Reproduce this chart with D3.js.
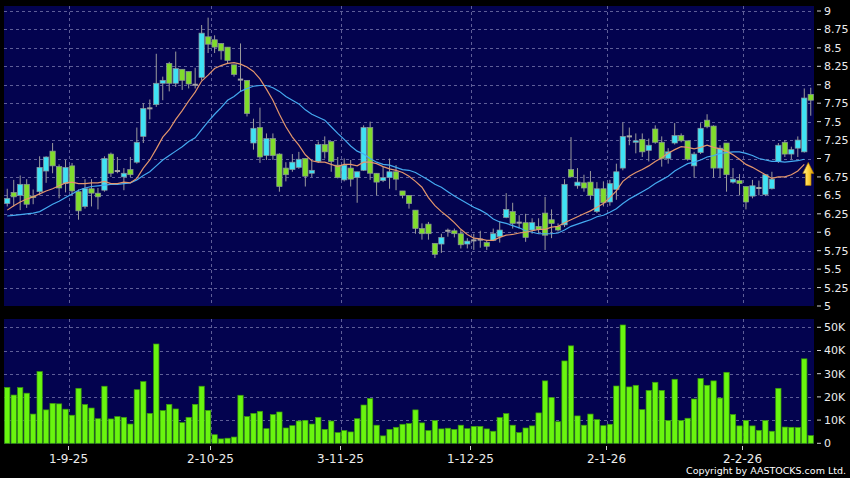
<!DOCTYPE html>
<html><head><meta charset="utf-8">
<script src="https://cdn.jsdelivr.net/npm/d3@7"></script>
<style>html,body{margin:0;padding:0;background:#000;}svg{display:block;}</style>
</head><body><svg id="c" width="850" height="478"></svg>
<script>
const open  = [6.39,6.54,6.50,6.65,6.49,6.55,6.83,7.10,6.89,6.66,6.90,6.55,6.35,6.59,6.53,6.57,7.06,6.83,6.75,6.85,
6.95,7.30,7.68,7.73,8.02,8.29,8.02,8.21,8.18,8.00,8.10,8.65,8.61,8.56,8.51,8.27,8.07,8.06,7.21,7.42,
7.04,7.27,7.06,6.87,6.85,6.88,7.00,6.80,6.96,7.19,7.23,6.91,6.71,6.87,6.74,6.84,7.42,6.80,6.70,6.74,
6.82,6.56,6.50,6.30,6.05,6.11,5.85,5.84,6.02,6.02,5.98,5.84,5.89,5.90,5.86,5.89,5.94,6.20,6.28,6.13,
6.13,6.03,6.08,6.26,6.17,6.08,6.10,6.85,6.63,6.67,6.68,6.28,6.59,6.41,6.58,6.87,7.30,7.22,7.26,7.11,
7.40,7.22,7.00,7.21,7.31,7.24,6.90,7.08,7.52,7.44,6.87,7.21,6.68,6.70,6.62,6.49,6.60,6.51,6.59,6.96,
7.22,7.06,7.14,7.09,7.87];
const high  = [6.59,6.71,6.77,6.72,6.58,7.03,7.03,7.21,6.92,6.98,6.94,6.58,6.72,6.72,6.60,7.03,7.08,7.02,6.87,7.02,
7.42,7.75,7.80,8.42,8.11,8.31,8.45,8.21,8.18,8.23,8.81,8.91,8.67,8.56,8.51,8.27,8.56,8.06,7.54,7.69,
7.34,7.34,7.07,6.95,7.06,7.09,7.00,6.98,7.23,7.30,7.23,7.02,7.00,6.98,6.82,7.45,7.50,6.80,6.89,7.00,
6.91,6.56,6.50,6.30,6.12,6.14,5.85,5.98,6.05,6.05,6.03,5.92,5.98,6.02,5.89,6.05,6.15,6.53,6.40,6.23,
6.25,6.19,6.19,6.48,6.31,6.12,6.72,7.29,6.87,6.78,6.83,6.68,6.69,6.71,6.93,7.49,7.42,7.34,7.34,7.27,
7.45,7.30,7.14,7.48,7.34,7.24,7.09,7.48,7.60,7.45,7.18,7.21,6.87,6.79,6.62,6.71,6.70,6.79,6.82,7.21,
7.25,7.16,7.30,7.95,7.96];
const low   = [6.35,6.35,6.30,6.33,6.38,6.50,6.67,6.80,6.46,6.54,6.50,6.17,6.32,6.35,6.31,6.55,6.75,6.80,6.57,6.75,
6.93,7.21,7.53,7.70,7.79,7.91,7.97,7.93,7.95,7.95,8.06,8.43,8.43,8.34,8.29,8.11,7.91,7.57,7.12,6.94,
6.98,6.98,6.55,6.69,6.82,6.86,6.62,6.75,6.94,7.00,6.82,6.73,6.69,6.62,6.40,6.83,6.71,6.50,6.68,6.59,
6.57,6.46,6.32,5.98,5.90,5.90,5.65,5.72,5.94,5.93,5.78,5.78,5.76,5.79,5.76,5.88,5.86,6.19,6.05,6.05,
5.87,5.98,5.98,5.76,5.92,6.01,6.07,6.75,6.59,6.55,6.44,6.26,6.35,6.36,6.44,6.84,7.18,7.07,7.02,6.96,
7.20,6.89,6.93,7.19,7.22,6.97,6.74,7.06,7.41,6.74,6.74,6.55,6.66,6.50,6.31,6.46,6.50,6.49,6.58,6.94,
7.02,6.99,7.02,7.08,7.58];
const close = [6.46,6.48,6.65,6.38,6.47,6.88,7.02,6.90,6.60,6.88,6.56,6.29,6.59,6.53,6.48,7.00,6.80,6.83,6.80,6.78,
7.22,7.68,7.68,8.02,8.06,8.02,8.22,8.06,8.01,8.00,8.70,8.55,8.51,8.46,8.33,8.14,8.07,7.61,7.41,7.02,
7.27,7.04,6.62,6.78,6.95,6.99,6.76,6.84,7.19,7.09,6.96,6.74,6.91,6.72,6.82,7.42,6.80,6.68,6.74,6.82,
6.72,6.50,6.39,6.05,5.98,5.98,5.70,5.93,6.02,5.98,5.83,5.88,5.89,5.90,5.81,5.98,6.03,6.31,6.12,6.13,
5.93,6.13,6.04,5.96,6.12,6.03,6.65,6.75,6.68,6.60,6.50,6.59,6.40,6.66,6.82,7.30,7.30,7.24,7.09,7.18,
7.22,7.00,7.09,7.31,7.24,6.99,7.06,7.41,7.43,6.87,7.14,6.78,6.72,6.66,6.41,6.63,6.60,6.78,6.72,7.18,
7.06,7.12,7.25,7.82,7.79];
// volume in thousands of shares
const volume = [24.1,20.8,24.0,21.6,12.6,30.9,14.4,17.2,17.0,14.7,12.1,23.7,16.7,15.2,10.6,24.6,10.5,11.5,11.2,8.3,
23.1,26.6,12.9,42.8,14.1,16.8,14.8,8.9,11.2,16.8,24.6,14.2,3.7,1.9,2.2,2.7,20.7,11.5,12.9,13.8,
6.3,12.4,13.5,6.6,7.6,9.6,9.9,8.3,11.2,6.0,9.6,4.6,5.5,4.9,10.6,16.5,19.3,7.8,3.2,6.0,
6.9,8.2,8.5,14.4,8.8,5.5,9.8,6.2,6.5,6.0,7.8,6.3,7.3,7.3,6.2,5.2,11.1,12.8,7.8,4.6,
6.6,7.5,13.1,26.9,19.7,9.3,35.5,42.0,11.8,7.8,12.6,10.2,7.6,8.2,24.7,51.0,24.3,25.0,14.5,22.8,
26.3,22.8,9.8,27.6,9.8,10.8,19.1,27.9,25.0,26.9,19.5,30.6,12.4,7.5,9.9,7.5,5.6,9.8,5.2,23.7,
7.0,6.9,6.8,36.4,3.3];
const ma10 = [6.30,6.36,6.41,6.45,6.48,6.52,6.56,6.59,6.63,6.67,6.68,6.66,6.66,6.67,6.67,6.69,6.66,6.66,6.68,6.67,
6.73,6.87,6.98,7.13,7.29,7.39,7.53,7.65,7.78,7.90,8.05,8.13,8.22,8.26,8.29,8.30,8.28,8.24,8.18,8.08,
7.94,7.79,7.60,7.43,7.29,7.18,7.05,6.97,6.95,6.95,6.92,6.89,6.92,6.92,6.90,6.95,6.95,6.93,6.89,6.86,
6.84,6.81,6.76,6.69,6.61,6.47,6.36,6.28,6.21,6.13,6.04,5.97,5.92,5.91,5.89,5.89,5.93,5.96,5.97,5.99,
6.00,6.02,6.04,6.04,6.07,6.08,6.13,6.17,6.21,6.25,6.29,6.34,6.39,6.47,6.56,6.69,6.76,6.81,6.85,6.90,
6.96,7.01,7.07,7.12,7.16,7.15,7.13,7.15,7.18,7.15,7.13,7.10,7.05,6.99,6.92,6.88,6.83,6.78,6.73,6.75,
6.75,6.78,6.83,6.92];
const ma20 = [6.22,6.23,6.24,6.25,6.26,6.28,6.33,6.38,6.42,6.47,6.52,6.57,6.60,6.62,6.63,6.64,6.65,6.65,6.66,6.67,
6.71,6.77,6.82,6.90,6.98,7.04,7.10,7.16,7.23,7.28,7.39,7.50,7.60,7.69,7.79,7.84,7.91,7.95,7.98,7.99,
7.99,7.96,7.91,7.84,7.79,7.74,7.66,7.60,7.56,7.52,7.43,7.34,7.26,7.17,7.10,7.06,7.00,6.95,6.92,6.91,
6.88,6.85,6.84,6.81,6.76,6.71,6.65,6.61,6.55,6.49,6.44,6.39,6.34,6.30,6.25,6.18,6.14,6.12,6.09,6.06,
6.02,6.00,5.98,5.98,5.98,5.99,6.03,6.08,6.11,6.14,6.17,6.21,6.23,6.27,6.32,6.39,6.45,6.50,6.55,6.60,
6.66,6.71,6.76,6.83,6.88,6.93,6.95,6.98,7.02,7.04,7.07,7.08,7.09,7.09,7.07,7.04,7.00,6.98,6.96,6.96,
6.95,6.96,6.97,6.99];
const priceTicks = [5,5.25,5.5,5.75,6,6.25,6.5,6.75,7,7.25,7.5,7.75,8,8.25,8.5,8.75,9];
const volTicks = [0,10,20,30,40,50];
const volTickLabels = ["0","10K","20K","30K","40K","50K"];
const dateTickIndex = [9,31,51,71,92,113];
const dateTickLabels = ["1-9-25","2-10-25","3-11-25","1-12-25","2-1-26","2-2-26"];

const svg = d3.select("#c");
const W = 850, H = 478;
const L = 4, R = 814;
const pTop = 6, pBot = 306, vTop = 319, vBot = 444;
const FONT = "DejaVu Sans, Verdana, sans-serif";
const NAVY = "#03034f";
const GRID = "#5e5e98";

svg.append("rect").attr("width", W).attr("height", H).attr("fill", "#000");

const n = close.length;
const x = d3.scaleBand().domain(d3.range(n)).range([L, R]).paddingInner(0.18).paddingOuter(0.09);
const bw = x.bandwidth();
const cx = i => x(i) + bw / 2;
const gridX = i => x(i) + bw + (x.step() - bw) / 2;

const y = d3.scaleLinear().domain([5, 9]).range([pBot, 11]);
const yv = d3.scaleLinear().domain([0, 50]).range([443.3, 327.3]);

// panels
svg.append("rect").attr("x", L).attr("y", pTop).attr("width", R - L).attr("height", pBot - pTop).attr("fill", NAVY);
svg.append("rect").attr("x", L).attr("y", vTop).attr("width", R - L).attr("height", vBot - vTop).attr("fill", NAVY);

const defs = svg.append("defs");
defs.append("clipPath").attr("id", "pclip").append("rect").attr("x", L).attr("y", pTop).attr("width", R - L).attr("height", pBot - pTop);
const grad = defs.append("linearGradient").attr("id", "arrowg").attr("x1", "0").attr("x2", "1").attr("y1", "0").attr("y2", "0");
grad.append("stop").attr("offset", "0").attr("stop-color", "#fff3a0");
grad.append("stop").attr("offset", "0.5").attr("stop-color", "#ffd23a");
grad.append("stop").attr("offset", "1").attr("stop-color", "#d99a00");

// horizontal grids
const g = svg.append("g");
g.selectAll("line.hp").data(priceTicks.filter(t => t > 5)).join("line")
  .attr("x1", L).attr("x2", R).attr("y1", d => Math.round(y(d)) + 0.5).attr("y2", d => Math.round(y(d)) + 0.5)
  .attr("stroke", GRID).attr("stroke-width", 1).attr("stroke-dasharray", "3,3");
g.selectAll("line.hv").data(volTicks.filter(t => t > 0)).join("line")
  .attr("x1", L).attr("x2", R).attr("y1", d => Math.round(yv(d)) + 0.5).attr("y2", d => Math.round(yv(d)) + 0.5)
  .attr("stroke", GRID).attr("stroke-width", 1).attr("stroke-dasharray", "3,3");
// vertical grids
dateTickIndex.forEach(i => {
  const gx = Math.round(gridX(i)) + 0.5;
  [[pTop, pBot], [vTop, vBot]].forEach(([a, b]) => {
    g.append("line").attr("x1", gx).attr("x2", gx).attr("y1", a).attr("y2", b)
      .attr("stroke", GRID).attr("stroke-width", 1).attr("stroke-dasharray", "3,3");
  });
});

// volume bars
svg.append("g").selectAll("rect").data(volume).join("rect")
  .attr("x", (d, i) => x(i)).attr("width", bw)
  .attr("y", d => yv(d)).attr("height", d => yv(0) - yv(d))
  .attr("fill", "#69f50f").attr("stroke", "#3a9a0c").attr("stroke-width", 0.7);

// candles
const cg = svg.append("g").attr("clip-path", "url(#pclip)");
const idx = d3.range(n);
cg.selectAll("line.wick").data(idx).join("line")
  .attr("x1", i => cx(i)).attr("x2", i => cx(i))
  .attr("y1", i => y(high[i])).attr("y2", i => y(low[i]))
  .attr("stroke", "#9c9c9c").attr("stroke-width", 1);
cg.selectAll("rect.body").data(idx).join("rect")
  .attr("x", i => x(i)).attr("width", bw)
  .attr("y", i => open[i] === close[i] ? y(open[i]) - 1 : y(Math.max(open[i], close[i])))
  .attr("height", i => open[i] === close[i] ? 2 : Math.max(1.5, Math.abs(y(open[i]) - y(close[i]))))
  .attr("fill", i => close[i] > open[i] ? "#3fe2f4" : (close[i] < open[i] ? "#80dc2c" : "#a4a4a4"))
  .attr("stroke", i => open[i] === close[i] ? "none" : "#8a959a").attr("stroke-width", 0.7);

// moving averages
const line = d3.line().x((d, i) => cx(i)).y(d => y(d));
cg.append("path").attr("d", line(ma20)).attr("fill", "none").attr("stroke", "#45aaf0").attr("stroke-width", 1.2);
cg.append("path").attr("d", line(ma10)).attr("fill", "none").attr("stroke", "#e3966c").attr("stroke-width", 1.2);

// arrow at end of ma10
{
  const ax = cx(n - 1) - 2.5, ay = y(ma10[ma10.length - 1]) - 2;
  const p = d3.path();
  p.moveTo(ax, ay); p.lineTo(ax + 5.5, ay + 11); p.lineTo(ax + 2.8, ay + 11); p.lineTo(ax + 2.8, ay + 23);
  p.lineTo(ax - 2.8, ay + 23); p.lineTo(ax - 2.8, ay + 11); p.lineTo(ax - 5.5, ay + 11); p.closePath();
  svg.append("path").attr("d", p.toString()).attr("fill", "url(#arrowg)").attr("stroke", "#b07a00").attr("stroke-width", 0.6);
}

// right axis - price
const ax = svg.append("g");
priceTicks.forEach(t => {
  ax.append("line").attr("x1", 817).attr("x2", 821).attr("y1", y(t)).attr("y2", y(t)).attr("stroke", "#d0d0d0");
  ax.append("text").attr("x", 824).attr("y", y(t)).attr("dy", "0.36em")
    .attr("fill", "#ececec").attr("font-family", FONT).attr("font-size", 11).text(String(t));
});
volTicks.forEach((t, k) => {
  ax.append("line").attr("x1", 817).attr("x2", 821).attr("y1", yv(t)).attr("y2", yv(t)).attr("stroke", "#d0d0d0");
  ax.append("text").attr("x", 824).attr("y", yv(t)).attr("dy", "0.36em")
    .attr("fill", "#ececec").attr("font-family", FONT).attr("font-size", 11).text(volTickLabels[k]);
});
// date axis
dateTickIndex.forEach((i, k) => {
  const gx = Math.round(gridX(i)) + 0.5;
  ax.append("line").attr("x1", gx - 1).attr("x2", gx - 1).attr("y1", 446).attr("y2", 450).attr("stroke", "#d0d0d0");
  ax.append("text").attr("x", gx - 1).attr("y", 462.5).attr("text-anchor", "middle")
    .attr("fill", "#ececec").attr("font-family", FONT).attr("font-size", 12).text(dateTickLabels[k]);
});
svg.append("text").attr("x", 846).attr("y", 473.5).attr("text-anchor", "end")
  .attr("fill", "#ffffff").attr("font-family", FONT).attr("font-size", 9.5).text("Copyright by AASTOCKS.com Ltd.");
</script></body></html>
